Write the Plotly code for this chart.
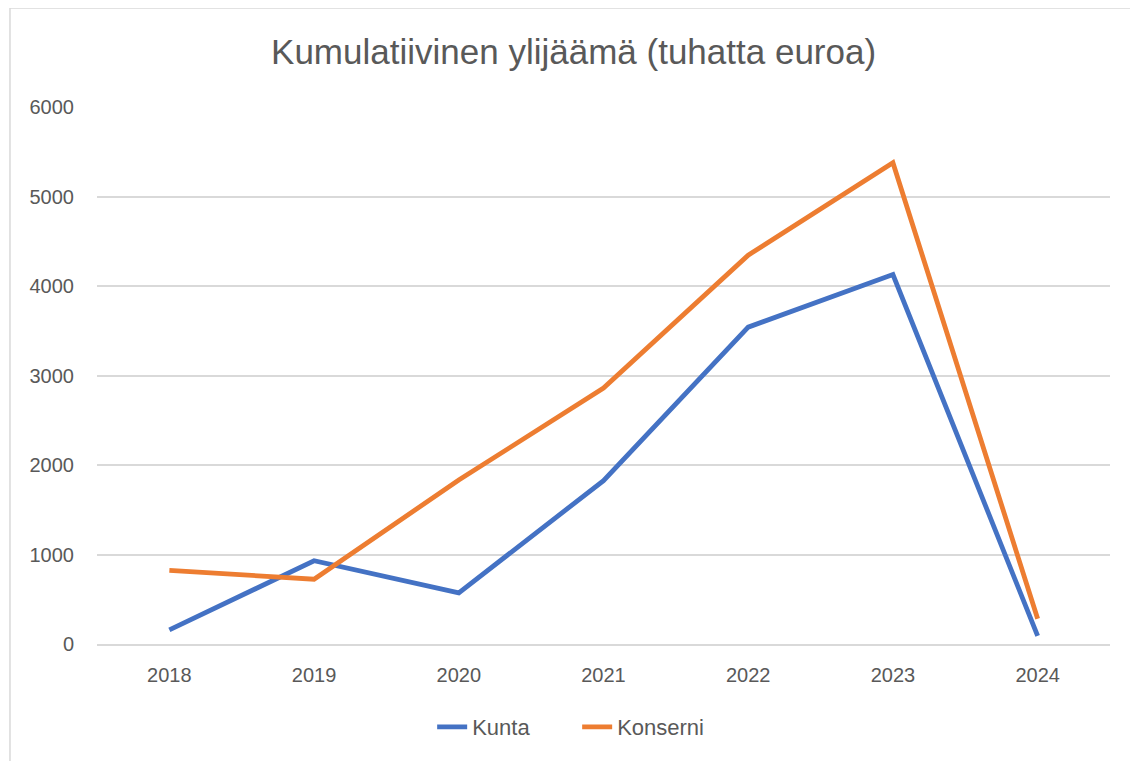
import plotly.graph_objects as go

years = ["2018", "2019", "2020", "2021", "2022", "2023", "2024"]
kunta = [157, 930, 572, 1825, 3540, 4128, 90]
konserni = [822, 724, 1832, 2860, 4345, 5377, 282]

fig = go.Figure()
fig.add_trace(go.Scatter(x=years, y=kunta, mode="lines", name="Kunta",
                         line=dict(color="#4472C4", width=4.8)))
fig.add_trace(go.Scatter(x=years, y=konserni, mode="lines", name="Konserni",
                         line=dict(color="#ED7D31", width=4.8)))

fig.update_layout(
    width=1138, height=761,
    paper_bgcolor="white", plot_bgcolor="white",
    margin=dict(l=89, r=36, t=99, b=125, autoexpand=False),
    font=dict(family="Liberation Sans, Arial, sans-serif", color="#595959", size=20),
    title=dict(text="Kumulatiivinen ylijäämä (tuhatta euroa)", x=0.497, xanchor="center",
               y=0.9422, yanchor="middle", font=dict(size=35, color="#595959")),
    legend=dict(orientation="h", x=0.474, xanchor="center", y=-0.1546, yanchor="middle",
                font=dict(size=22, color="#595959"), entrywidth=100, entrywidthmode="pixels"),
    showlegend=True,
)
fig.update_xaxes(type="category", range=[-0.5, 6.5], showgrid=False, showline=True,
                 linecolor="#d9d9d9", linewidth=1.5, ticks="",
                 tickfont=dict(size=20, color="#595959"), ticklabelstandoff=12)
fig.update_yaxes(range=[0, 6000], dtick=1000, showgrid=True, gridcolor="#d9d9d9",
                 gridwidth=1.5, zeroline=False, showline=False, ticks="",
                 tickfont=dict(size=20, color="#595959"), ticklabelstandoff=22)
fig.add_shape(type="rect", xref="paper", yref="paper", x0=-0.0859, x1=1.0267,
              y0=-0.25, y1=1.1844, line=dict(color="#d9d9d9", width=1.5),
              fillcolor="rgba(0,0,0,0)")
fig.write_html("out.html")
